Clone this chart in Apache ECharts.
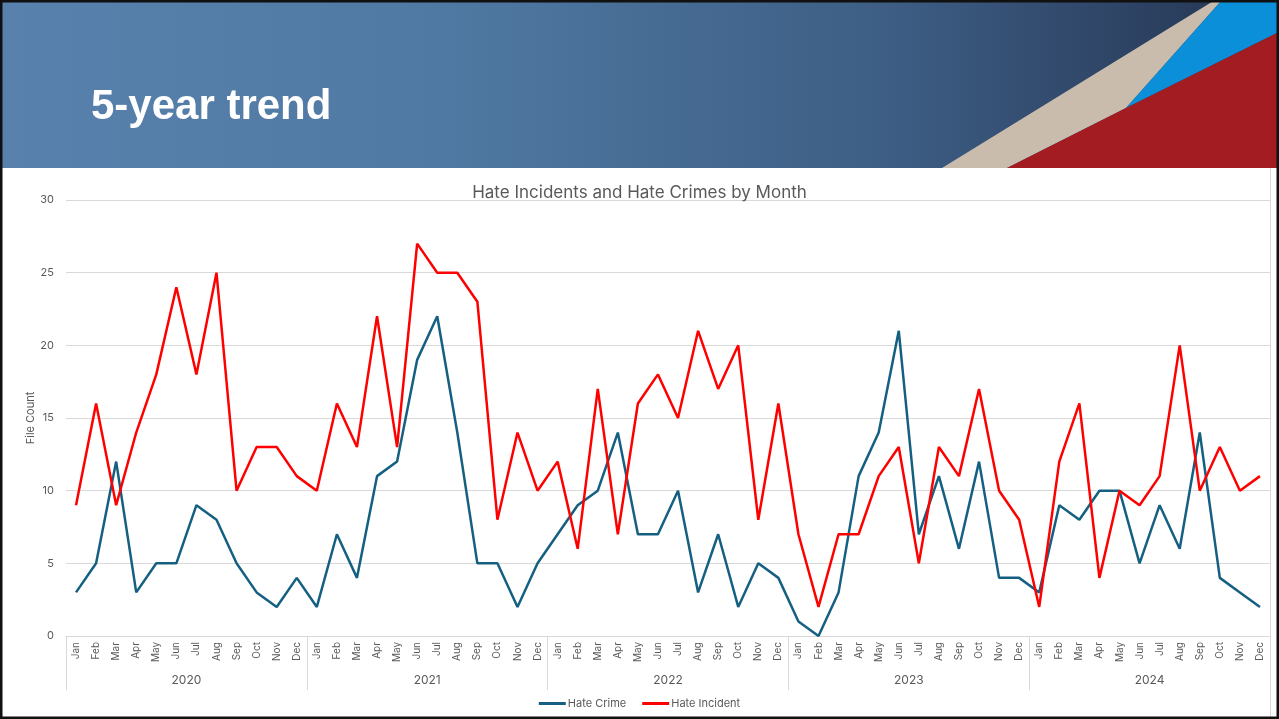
<!DOCTYPE html>
<html>
<head>
<meta charset="utf-8">
<title>5-year trend</title>
<script src="https://cdn.jsdelivr.net/npm/echarts@6/dist/echarts.min.js"></script>
<style>
  html, body { margin: 0; padding: 0; background: #fff; }
  #chart { width: 1279px; height: 719px; }
</style>
</head>
<body>
<div id="chart"></div>
<script>
// months, repeated for every year
var months = ["Jan", "Feb", "Mar", "Apr", "May", "Jun", "Jul", "Aug", "Sep", "Oct", "Nov", "Dec"];
var years = ["2020", "2021", "2022", "2023", "2024"];
var yTicks = [0, 5, 10, 15, 20, 25, 30];

var hateCrime = [
  3, 5, 12, 3, 5, 5, 9, 8, 5, 3, 2, 4,
  2, 7, 4, 11, 12, 19, 22, 14, 5, 5, 2, 5,
  7, 9, 10, 14, 7, 7, 10, 3, 7, 2, 5, 4,
  1, 0, 3, 11, 14, 21, 7, 11, 6, 12, 4, 4,
  3, 9, 8, 10, 10, 5, 9, 6, 14, 4, 3, 2
];
var hateIncident = [
  9, 16, 9, 14, 18, 24, 18, 25, 10, 13, 13, 11,
  10, 16, 13, 22, 13, 27, 25, 25, 23, 8, 14, 10,
  12, 6, 17, 7, 16, 18, 15, 21, 17, 20, 8, 16,
  7, 2, 7, 7, 11, 13, 5, 13, 11, 17, 10, 8,
  2, 12, 16, 4, 10, 9, 11, 20, 10, 13, 10, 11
];

var monthCats = [];
years.forEach(function (y) {
  months.forEach(function (m) {
    monthCats.push(m + " " + y);
  });
});

var myChart = echarts.init(document.getElementById("chart"));
var grey = "#595959";

var option = {
  animation: false,
  textStyle: { fontFamily: "Inter, 'Open Sans', sans-serif" },
  graphic: [
    // header band
    {
      type: "rect",
      z: -10,
      shape: { x: 0, y: 0, width: 1279, height: 168 },
      style: {
        fill: new echarts.graphic.LinearGradient(0, 0, 1, 0, [
          { offset: 0, color: "#5882ad" },
          { offset: 0.35, color: "#4f79a2" },
          { offset: 0.7, color: "#3d5d84" },
          { offset: 0.95, color: "#283a58" },
        ]),
      },
    },
    {
      type: "polygon",
      z: -9,
      shape: { points: [[942, 168], [1215, 0], [1222, 0], [1126, 108], [1007, 168]] },
      style: { fill: "#c9bcad" },
    },
    {
      type: "polygon",
      z: -9,
      shape: { points: [[1222, 0], [1279, 0], [1279, 32], [1126, 108]] },
      style: { fill: "#0a8fd8" },
    },
    {
      type: "polygon",
      z: -9,
      shape: { points: [[1007, 168], [1126, 108], [1279, 32], [1279, 168]] },
      style: { fill: "#a31c22" },
    },
    {
      type: "text",
      left: 91,
      top: 86,
      style: {
        text: "5-year trend",
        fill: "#fff",
        font: "bold 42px 'Liberation Sans', Arial, sans-serif",
      },
    },
    // chart frame edge on the right
    {
      type: "line",
      z: -5,
      shape: { x1: 1270.5, y1: 168, x2: 1270.5, y2: 719 },
      style: { stroke: "#d9d9d9", lineWidth: 1 },
    },
    // slide border
    {
      type: "rect",
      z: 100,
      shape: { x: 1, y: 1, width: 1277, height: 717 },
      style: { fill: "none", stroke: "#111", lineWidth: 3 },
    },
  ],
  title: {
    text: "Hate Incidents and Hate Crimes by Month",
    left: "center",
    top: 179,
    textStyle: { color: grey, fontSize: 17, fontWeight: "normal" },
  },
  legend: {
    bottom: 5,
    left: "center",
    icon: "rect",
    itemWidth: 27,
    itemHeight: 3,
    itemGap: 16,
    textStyle: { color: grey, fontSize: 11, padding: [0, 0, 0, -3] },
    data: ["Hate Crime", "Hate Incident"],
  },
  grid: { left: 66, right: 9, top: 200, bottom: 83 },
  xAxis: [
    {
      type: "category",
      data: monthCats,
      boundaryGap: true,
      axisLine: { lineStyle: { color: "#d9d9d9" } },
      axisTick: { show: false },
      axisLabel: {
        interval: 0,
        rotate: 90,
        color: grey,
        fontSize: 10,
        margin: 6,
        formatter: function (v) {
          return v.split(" ")[0];
        },
      },
    },
    {
      type: "category",
      data: years,
      position: "bottom",
      boundaryGap: true,
      axisLine: { show: false },
      axisTick: { show: true, interval: 0, length: 54, lineStyle: { color: "#d9d9d9" } },
      axisLabel: { interval: 0, color: grey, fontSize: 12, margin: 38 },
    },
  ],
  yAxis: {
    type: "value",
    min: yTicks[0],
    max: yTicks[yTicks.length - 1],
    interval: 5,
    name: "File Count",
    nameLocation: "middle",
    nameGap: 30,
    nameMoveOverlap: false,
    nameTextStyle: { color: grey, fontSize: 11 },
    axisLine: { show: false },
    axisTick: { show: false },
    axisLabel: { color: grey, fontSize: 11, margin: 12 },
    splitLine: { lineStyle: { color: "#d9d9d9" } },
  },
  series: [
    {
      name: "Hate Crime",
      type: "line",
      data: hateCrime,
      symbol: "none",
      color: "#156082",
      lineStyle: { width: 2.5, color: "#156082" },
    },
    {
      name: "Hate Incident",
      type: "line",
      data: hateIncident,
      symbol: "none",
      color: "#ff0000",
      lineStyle: { width: 2.5, color: "#ff0000" },
    },
  ],
};

myChart.setOption(option);
</script>
</body>
</html>
